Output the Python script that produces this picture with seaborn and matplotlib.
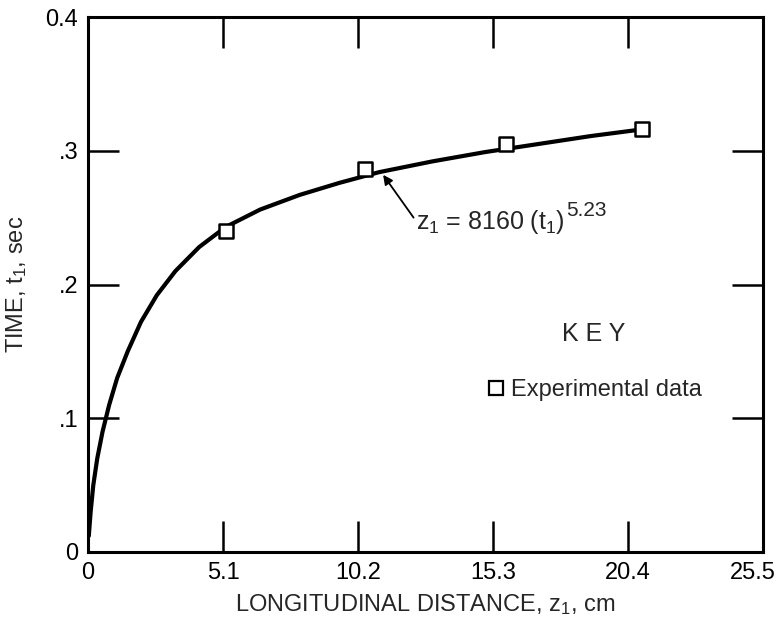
import matplotlib
matplotlib.use("Agg")
import matplotlib.pyplot as plt
import seaborn as sns
import pandas as pd
from matplotlib.lines import Line2D
from matplotlib.transforms import ScaledTranslation

exp_z = [5.2, 10.47, 15.78, 20.94]
exp_t = [0.240, 0.286, 0.305, 0.316]

# Fitted curve z1 = 8160 (t1)^5.23
curve_z = [0.03, 0.1, 0.2, 0.35, 0.55, 0.8, 1.1, 1.5, 2.0, 2.6, 3.3, 4.2, 5.2,
           6.5, 8.0, 9.5, 11.0, 13.0, 15.0, 17.0, 19.0, 20.94]
curve_t = [0.012, 0.03, 0.05, 0.07, 0.09, 0.11, 0.13, 0.15, 0.172, 0.192, 0.21,
           0.228, 0.243, 0.256, 0.267, 0.276, 0.284, 0.292, 0.299, 0.305, 0.311, 0.316]

x_ticks = [0, 5.1, 10.2, 15.3, 20.4, 25.5]
x_labels = ["0", "5.1", "10.2", "15.3", "20.4", "25.5"]
y_ticks = [0, 0.1, 0.2, 0.3, 0.4]
y_labels = ["0", ".1", ".2", ".3", "0.4"]

sns.set_style("white")
plt.rcParams["font.family"] = ["Liberation Sans", "DejaVu Sans"]
plt.rcParams["mathtext.fontset"] = "custom"
plt.rcParams["mathtext.rm"] = "Liberation Sans"
plt.rcParams["mathtext.it"] = "Liberation Sans"

fig = plt.figure(figsize=(7.81, 6.2), dpi=100)
ax = fig.add_axes([88 / 781, 1 - 552 / 620, (763 - 88) / 781, (552 - 17) / 620])

curve_df = pd.DataFrame({"z": curve_z, "t": curve_t})
exp_df = pd.DataFrame({"z": exp_z, "t": exp_t})

sns.lineplot(data=curve_df, x="z", y="t", color="black", linewidth=3.0, ax=ax,
             sort=False, zorder=2)
sns.scatterplot(data=exp_df, x="z", y="t", marker="s", s=110, facecolor="white",
                edgecolor="black", linewidth=1.8, ax=ax, zorder=3)

ax.set_xlim(0, 25.5)
ax.set_ylim(0, 0.4)
ax.set_xticks(x_ticks)
ax.set_xticklabels(x_labels)
ax.set_yticks(y_ticks)
ax.set_yticklabels(y_labels)

for s in ax.spines.values():
    s.set_linewidth(2.2)
    s.set_color("black")
ax.tick_params(axis="both", direction="in", length=22, width=1.8, colors="black",
               labelsize=17, pad=7, top=True, right=True, bottom=True, left=True,
               labeltop=False, labelright=False)

# keep last x label inside the figure
lbls = ax.get_xticklabels()
lbls[-1].set_transform(lbls[-1].get_transform() + ScaledTranslation(-10 / 100, 0, fig.dpi_scale_trans))

ax.set_xlabel("LONGITUDINAL DISTANCE, $z_\\mathregular{1}$, cm", fontsize=17, labelpad=6)
ax.set_ylabel("TIME, $t_\\mathregular{1}$, sec", fontsize=17, labelpad=12)

# annotation: arrow, formula text and a large exponent
ax.annotate("", xy=(11.15, 0.282), xytext=(12.3, 0.250),
            arrowprops=dict(arrowstyle="-|>", color="black", lw=1.3,
                            mutation_scale=14, shrinkA=0, shrinkB=0))
formula = ax.text(12.4, 0.247, "$z_\\mathregular{1}$ = 8160 ($t_\\mathregular{1}$)",
                  fontsize=18, va="center", ha="left")
fig.canvas.draw()
bb = formula.get_window_extent(renderer=fig.canvas.get_renderer())
xr, yt = ax.transData.inverted().transform((bb.x1 + 1, bb.y1 - 3))
ax.text(xr, yt, "5.23", fontsize=15, ha="left", va="center")

handle = Line2D([], [], linestyle="none", marker="s", markersize=10,
                markerfacecolor="white", markeredgecolor="black", markeredgewidth=1.6)
leg = ax.legend([handle], ["Experimental data"], title="K E Y", loc="center",
                bbox_to_anchor=(0.749, 0.356), frameon=False, fontsize=17,
                title_fontsize=18, handletextpad=0.15, handlelength=0.9,
                borderpad=0.2, labelspacing=0.3)
leg._legend_box.sep = 24

fig.savefig("out.png", dpi=100)
